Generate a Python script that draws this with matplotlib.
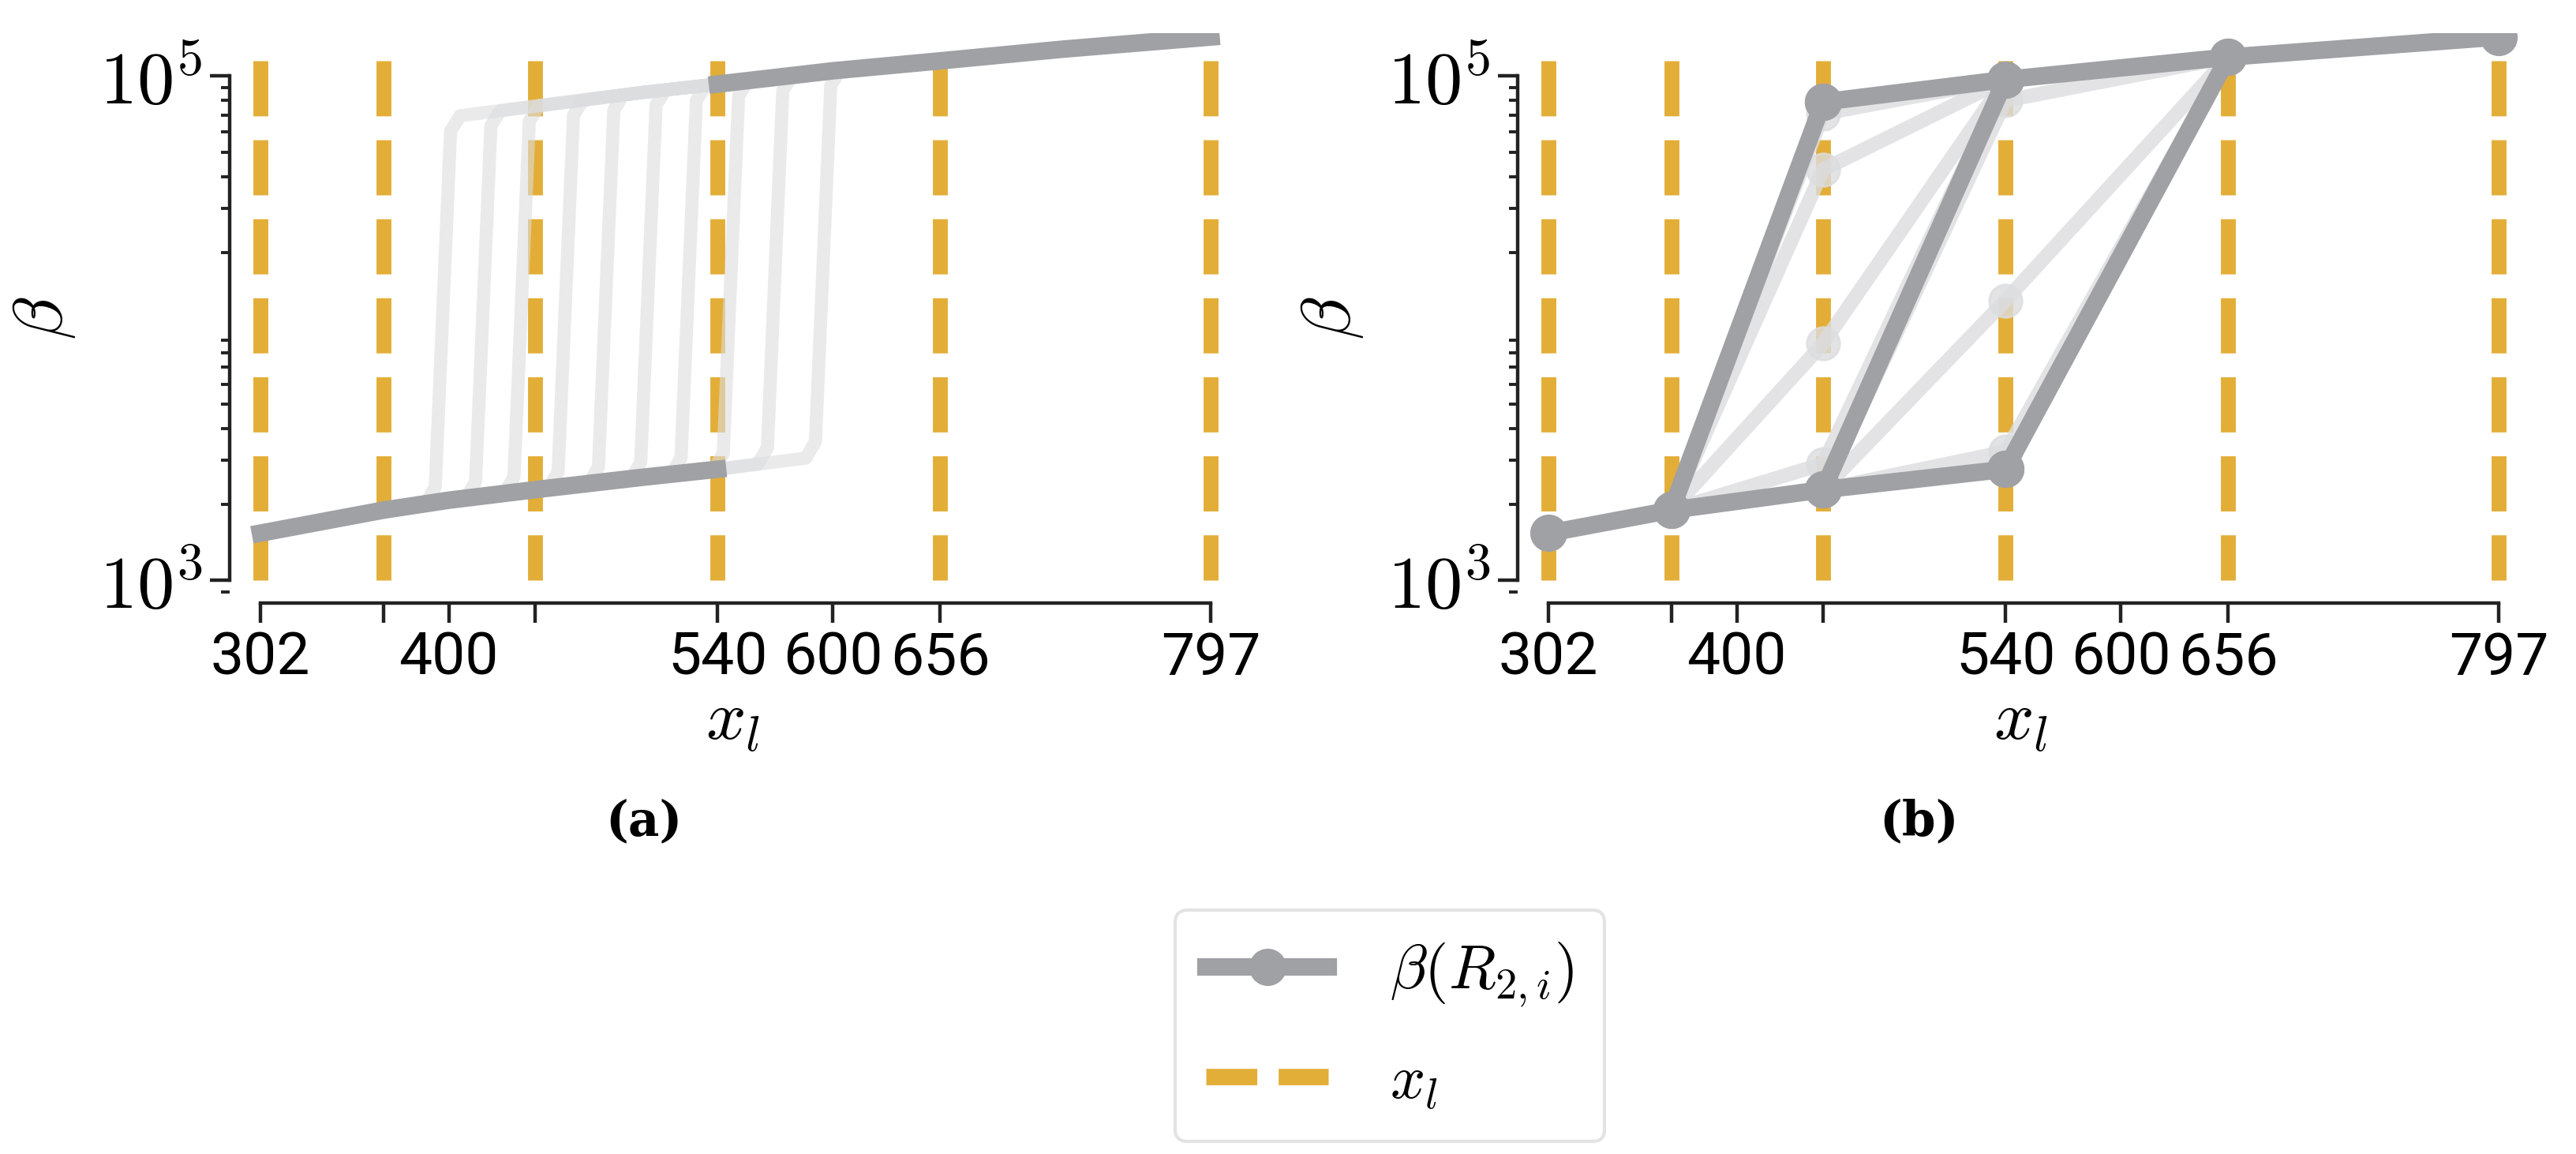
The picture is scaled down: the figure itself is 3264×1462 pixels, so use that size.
import numpy as np
import matplotlib.pyplot as plt
from matplotlib.lines import Line2D

plt.rcParams["mathtext.fontset"] = "cm"
plt.rcParams["font.family"] = ["Roboto", "DejaVu Sans"]

darkGray = "#a0a1a5"
lightGray = "#dcdddf"
yellow = "#e3ae38"

# x_l positions (dashed lines) and tick positions
xlLines = [302, 366, 445, 540, 656, 797]
xTicks = [302, 366, 400, 445, 540, 600, 656, 797]
xTickLabels = ["302", "", "400", "", "540", "600", "656", "797"]

# panel (a): lower and upper branches
lowX = [302, 366, 400, 445, 500, 540, 570, 600]
lowY = [1540, 1900, 2080, 2290, 2560, 2760, 2950, 3150]
upX = [395, 445, 500, 540, 600, 656, 720, 797]
upY = [6.8e4, 7.6e4, 8.6e4, 9.3e4, 1.05e5, 1.15e5, 1.28e5, 1.43e5]
# x where each light curve jumps from the lower to the upper branch
jumpX = [398, 419, 439, 462, 483, 505, 526, 548, 571, 596]

# panel (b): dark chains and diagonal jumps
bLowX = [302, 366, 445, 540]
bLowY = [1540, 1900, 2290, 2760]
bUpX = [445, 540, 656, 797]
bUpY = [7.9e4, 9.7e4, 1.19e5, 1.43e5]
bJumps = [([366, 445], [1900, 7.9e4]), ([445, 540], [2290, 9.7e4]), ([540, 656], [2760, 1.19e5])]
# light paths
lightPaths = [
    ([366, 445, 540], [1900, 7.1e4, 9.7e4]),
    ([366, 445, 540], [1900, 4.26e4, 9.7e4]),
    ([366, 445, 540], [1900, 8700, 9.7e4]),
    ([366, 445, 540], [1900, 2900, 9.7e4]),
    ([445, 540, 656], [2290, 8.0e4, 1.19e5]),
    ([445, 540, 656], [2290, 1.29e4, 1.19e5]),
    ([445, 540, 656], [2290, 3240, 1.19e5]),
]

fig = plt.figure(figsize=(16.32, 7.31), dpi=200)
axA = fig.add_axes([0.0892, 0.4774, 0.3906, 0.4938])
axB = fig.add_axes([0.5892, 0.4774, 0.3906, 0.4938])


def interp_log(x, xs, ys):
    return np.exp(np.interp(x, xs, np.log(ys)))


def style(ax):
    ax.set_yscale("log")
    ax.set_xlim(286, 810)
    ax.set_ylim(813, 1.48e5)
    for s in ["top", "right"]:
        ax.spines[s].set_visible(False)
    ax.spines["left"].set_bounds(1e3, 1e5)
    ax.spines["bottom"].set_bounds(302, 797)
    for s in ["left", "bottom"]:
        ax.spines[s].set_linewidth(1.6)
        ax.spines[s].set_color("#222222")
    ax.set_xticks(xTicks)
    ax.set_xticklabels(xTickLabels)
    ax.set_yticks([1e3, 1e5])
    ax.set_yticklabels([r"$10^3$", r"$10^5$"])
    ax.tick_params(axis="x", which="major", labelsize=27, length=9, width=1.6, color="#222222")
    ax.tick_params(axis="y", which="major", labelsize=34, length=9, width=1.6, color="#222222")
    ax.tick_params(axis="y", which="minor", length=4, width=1.4, color="#222222")
    ax.set_xlabel(r"$x_l$", fontsize=32, labelpad=0)
    ax.set_ylabel(r"$\beta$", fontsize=32, labelpad=10)
    for x in xlLines:
        ax.plot([x, x], [1.15e5, 1e3], color=yellow, lw=6.8, dashes=(3.7, 1.6), zorder=1)


style(axA)
style(axB)

# panel (a)
for xj in jumpX:
    xs = [x for x in lowX if x < xj - 10] + [xj - 10, xj - 5]
    ys = [interp_log(x, lowX, lowY) for x in xs[:-1]] + [interp_log(xj - 5, lowX, lowY) * 1.15]
    xs2 = [xj + 3, xj + 8] + [x for x in upX if x > xj + 8]
    ys2 = [interp_log(xj + 3, upX, upY) * 0.88] + [interp_log(x, upX, upY) for x in xs2[1:]]
    axA.plot(xs + xs2, ys + ys2, color=lightGray, lw=6, alpha=0.6, solid_joinstyle="round", zorder=2)
axA.plot(lowX[:6], lowY[:6], color=darkGray, lw=8, zorder=3)
axA.plot(upX[3:], upY[3:], color=darkGray, lw=8, zorder=3)

# panel (b)
for xs, ys in lightPaths:
    axB.plot(xs, ys, color=lightGray, lw=6.5, marker="o", ms=15, alpha=0.8, zorder=2)
axB.plot(bLowX, bLowY, color=darkGray, lw=8, marker="o", ms=16, zorder=3)
axB.plot(bUpX, bUpY, color=darkGray, lw=8, marker="o", ms=16, zorder=3)
for xs, ys in bJumps:
    axB.plot(xs, ys, color=darkGray, lw=8, marker="o", ms=16, zorder=3)

fig.text(0.25, 0.288, "(a)", fontsize=22, fontweight="bold", ha="center", va="center", family="DejaVu Serif")
fig.text(0.745, 0.288, "(b)", fontsize=22, fontweight="bold", ha="center", va="center", family="DejaVu Serif")

handles = [
    Line2D([], [], color=darkGray, lw=8, marker="o", ms=16),
    Line2D([], [], color=yellow, lw=7.5, dashes=(3.1, 1.3)),
]
leg = fig.legend(handles, [r"$\beta(R_{2,i})$", r"$x_l$"], loc="center",
                 bbox_to_anchor=(0.5396, 0.111), fontsize=28, frameon=True,
                 fancybox=True, handlelength=2.0, borderpad=0.5, labelspacing=0.7,
                 handletextpad=1.0)
leg.get_frame().set_edgecolor("#dddddd")
leg.get_frame().set_linewidth(1.5)

fig.savefig("out.png", dpi=200)
